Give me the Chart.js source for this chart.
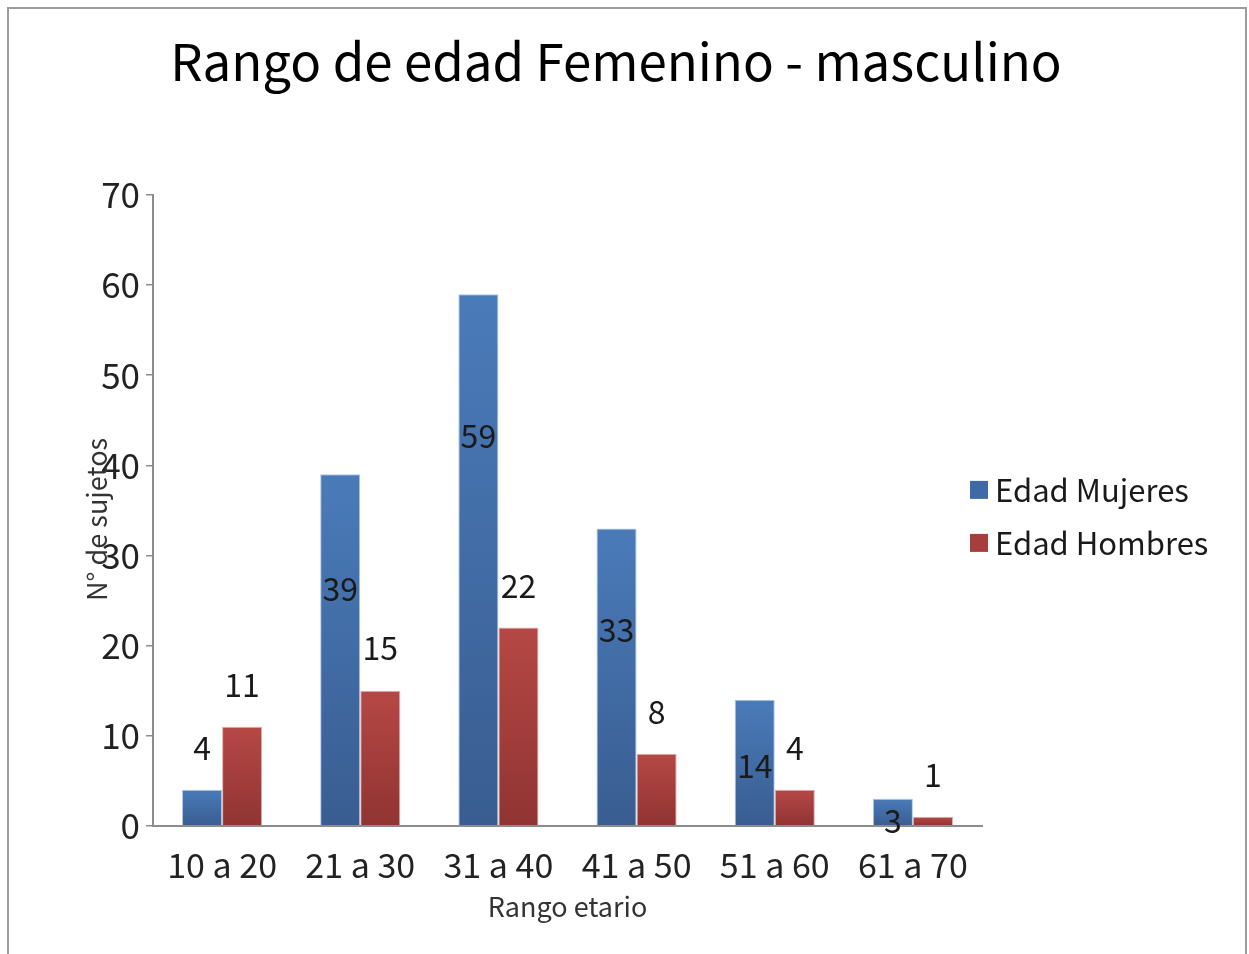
<!DOCTYPE html>
<html>
<head>
<meta charset="utf-8">
<script src="https://cdn.jsdelivr.net/npm/chart.js@4/dist/chart.umd.min.js"></script>
<style>
  html, body { margin: 0; padding: 0; background: #fff; }
  #wrap { position: relative; width: 1249px; height: 954px; overflow: hidden; }
  #frame { position: absolute; left: 7px; top: 7px; width: 1240px; height: 1000px; border: 2px solid #9c9c9c; box-sizing: border-box; }
  canvas { position: absolute; left: 0; top: 0; }
</style>
</head>
<body>
<div id="wrap">
  <div id="frame"></div>
  <canvas id="c" width="1249" height="954"></canvas>
</div>
<script>
const categories = ['10 a 20', '21 a 30', '31 a 40', '41 a 50', '51 a 60', '61 a 70'];
const mujeres = [4, 39, 59, 33, 14, 3];
const hombres = [11, 15, 22, 8, 4, 1];
// where each value label sits, in axis units
const mujeresLabelAt = [8.7, 26.3, 43.3, 21.7, 6.7, 0.6];
const hombresLabelAt = [15.6, 19.7, 26.6, 12.6, 8.7, 5.6];
const yTicks = [0, 10, 20, 30, 40, 50, 60, 70];
const seriesNames = ['Edad Mujeres', 'Edad Hombres'];
const legendColors = ['#3f6aa5', '#a53e3c'];
const chartTitle = 'Rango de edad Femenino - masculino';

const FONT = "'Noto Sans CJK KR', 'Open Sans', sans-serif";

function barGradient(ctx, top, bottom) {
  const chart = ctx.chart;
  const y = chart.scales && chart.scales.y;
  if (!y || !chart.chartArea) return top;
  const v = ctx.raw;
  const y0 = y.getPixelForValue(v);
  const y1 = y.getPixelForValue(0);
  if (!isFinite(y0) || !isFinite(y1) || y0 === y1) return top;
  const g = chart.ctx.createLinearGradient(0, y0, 0, y1);
  g.addColorStop(0, top);
  g.addColorStop(1, bottom);
  return g;
}

const labelPlugin = {
  id: 'valueLabels',
  afterDatasetsDraw(chart) {
    const ctx = chart.ctx;
    const y = chart.scales.y;
    const anchors = [mujeresLabelAt, hombresLabelAt];
    ctx.save();
    ctx.font = "32px " + FONT;
    ctx.fillStyle = '#1a1a1a';
    ctx.textAlign = 'center';
    ctx.textBaseline = 'middle';
    chart.data.datasets.forEach((ds, di) => {
      const meta = chart.getDatasetMeta(di);
      meta.data.forEach((bar, i) => {
        ctx.fillText(String(ds.data[i]), bar.x, y.getPixelForValue(anchors[di][i]));
      });
    });
    ctx.restore();
  }
};

const extrasPlugin = {
  id: 'extras',
  afterDraw(chart) {
    const ctx = chart.ctx;
    const a = chart.chartArea;
    // chart title
    ctx.save();
    ctx.font = "51px " + FONT;
    ctx.fillStyle = '#000';
    ctx.textAlign = 'center';
    ctx.textBaseline = 'middle';
    ctx.fillText(chartTitle, 616, 62);
    ctx.restore();
    // y axis title
    ctx.save();
    ctx.translate(97, (a.top + a.bottom) / 2 + 9);
    ctx.rotate(-Math.PI / 2);
    ctx.font = "27px " + FONT;
    ctx.fillStyle = '#333';
    ctx.textAlign = 'center';
    ctx.textBaseline = 'middle';
    ctx.fillText('N° de sujetos', 0, 0);
    ctx.restore();
    // legend
    ctx.save();
    ctx.font = "31px " + FONT;
    ctx.textAlign = 'left';
    ctx.textBaseline = 'middle';
    const cy = (a.top + a.bottom) / 2 + 6;
    const gap = 53;
    seriesNames.forEach((name, i) => {
      const yy = cy + (i - 0.5) * gap;
      ctx.fillStyle = legendColors[i];
      ctx.fillRect(970, yy - 9, 18, 18);
      ctx.fillStyle = '#1a1a1a';
      ctx.fillText(name, 995, yy);
    });
    ctx.restore();
  }
};

new Chart(document.getElementById('c'), {
  type: 'bar',
  data: {
    labels: categories,
    datasets: [
      {
        label: seriesNames[0],
        data: mujeres,
        backgroundColor: (c) => barGradient(c, '#4a7bb9', '#395d91'),
        borderColor: 'rgba(120,160,210,0.6)',
        borderWidth: 1,
        categoryPercentage: 0.58,
        barPercentage: 1.0
      },
      {
        label: seriesNames[1],
        data: hombres,
        backgroundColor: (c) => barGradient(c, '#b54845', '#903432'),
        borderColor: 'rgba(200,120,120,0.6)',
        borderWidth: 1,
        categoryPercentage: 0.58,
        barPercentage: 1.0
      }
    ]
  },
  options: {
    responsive: false,
    animation: false,
    devicePixelRatio: 1,
    layout: { padding: { left: 0, right: 267, top: 195, bottom: 31 } },
    plugins: {
      title: { display: false },
      legend: { display: false },
      tooltip: { enabled: false }
    },
    scales: {
      x: {
        grid: { display: false, drawTicks: false },
        border: { color: '#8c8c8c', width: 2 },
        ticks: { color: '#222', font: { family: FONT, size: 34 }, padding: 19 },
        title: {
          display: true,
          text: 'Rango etario',
          color: '#333',
          font: { family: FONT, size: 27 },
          padding: { top: -14, bottom: 0 }
        }
      },
      y: {
        min: 0,
        max: 70,
        afterBuildTicks(scale) { scale.ticks = yTicks.map(v => ({ value: v })); },
        afterFit(scale) { scale.width = 153; },
        grid: { display: true, drawOnChartArea: false, drawTicks: true, tickLength: 7, color: '#8c8c8c', lineWidth: 1.5 },
        border: { color: '#8c8c8c', width: 2 },
        ticks: { color: '#222', font: { family: FONT, size: 35 }, padding: 6 }
      }
    }
  },
  plugins: [labelPlugin, extrasPlugin]
});
</script>
</body>
</html>
